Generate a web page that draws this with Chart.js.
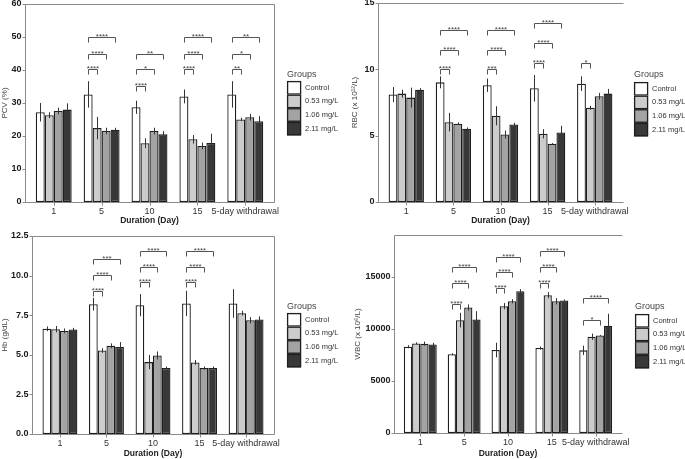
<!DOCTYPE html>
<html>
<head>
<meta charset="utf-8">
<script src="https://cdn.jsdelivr.net/npm/chart.js@4.4.1/dist/chart.umd.min.js"></script>
<style>
  body { margin: 0; background: #fff; }
  #wrap { position: relative; width: 685px; height: 459px; overflow: hidden; }
  canvas { position: absolute; }
</style>
</head>
<body>
<div id="wrap">
  <canvas id="pcv"></canvas>
  <canvas id="rbc"></canvas>
  <canvas id="hb"></canvas>
  <canvas id="wbc"></canvas>
</div>
<script>
// Kategorien und Gruppen
const days = ['1', '5', '10', '15', '5-day withdrawal'];
const groups = ['Control', '0.53 mg/L', '1.06 mg/L', '2.11 mg/L'];
const groupColors = ['#ffffff', '#cccccc', '#a3a3a3', '#383838'];

// PCV (%) – Mittelwerte und Fehler je Gruppe (Zeilen) und Tag (Spalten)
const pcvMeans = [
  [27.2, 32.6, 28.7, 32.0, 32.6],
  [26.3, 22.4, 17.8, 19.0, 25.0],
  [27.6, 21.5, 21.5, 17.0, 25.7],
  [28.0, 21.9, 20.5, 17.9, 24.5]
];
const pcvErrors = [
  [2.8, 4.0, 2.0, 2.1, 4.0],
  [0.9, 3.4, 1.5, 1.3, 0.5],
  [1.0, 1.0, 1.0, 1.0, 1.0],
  [1.9, 0.6, 1.0, 2.8, 1.5]
];
const pcvTicks = [0, 10, 20, 30, 40, 50, 60];
// [Tag, Gruppe, Höhe, Label]
const pcvSig = [
  [1, 1, 40.3, '****'], [1, 2, 45.0, '****'], [1, 3, 50.0, '****'],
  [2, 1, 35.2, '****'], [2, 2, 40.2, '*'], [2, 3, 45.0, '**'],
  [3, 1, 40.3, '****'], [3, 2, 45.0, '****'], [3, 3, 50.0, '****'],
  [4, 1, 40.3, '**'], [4, 2, 45.0, '*'], [4, 3, 50.0, '**']
];

// RBC
const rbcMeans = [
  [8.10, 9.02, 8.80, 8.57, 8.92],
  [8.17, 6.02, 6.50, 5.14, 7.10],
  [7.87, 5.90, 5.09, 4.39, 7.97],
  [8.47, 5.52, 5.85, 5.24, 8.17]
];
const rbcErrors = [
  [0.57, 0.45, 0.50, 1.00, 0.55],
  [0.30, 0.70, 0.72, 0.35, 0.15],
  [0.75, 0.10, 0.30, 0.05, 0.25],
  [0.10, 0.10, 0.12, 0.50, 0.35]
];
const rbcTicks = [0, 5, 10, 15];
const rbcSig = [
  [1, 1, 10.0, '****'], [1, 2, 11.47, '****'], [1, 3, 12.98, '****'],
  [2, 1, 10.0, '***'], [2, 2, 11.47, '****'], [2, 3, 12.98, '****'],
  [3, 1, 10.46, '****'], [3, 2, 12.0, '****'], [3, 3, 13.53, '****'],
  [4, 1, 10.46, '*']
];

// Hb
const hbMeans = [
  [6.64, 8.19, 8.13, 8.24, 8.24],
  [6.62, 5.27, 4.54, 4.52, 7.63],
  [6.51, 5.57, 4.96, 4.16, 7.18],
  [6.60, 5.50, 4.16, 4.16, 7.23]
];
const hbErrors = [
  [0.15, 0.40, 0.70, 0.80, 0.90],
  [0.20, 0.15, 0.45, 0.15, 0.15],
  [0.15, 0.15, 0.25, 0.10, 0.20],
  [0.10, 0.30, 0.10, 0.10, 0.20]
];
const hbTicks = [0, 2.5, 5, 7.5, 10, 12.5];
const hbSig = [
  [1, 1, 9.05, '****'], [1, 2, 10.04, '****'], [1, 3, 11.05, '***'],
  [2, 1, 9.58, '****'], [2, 2, 10.55, '****'], [2, 3, 11.55, '****'],
  [3, 1, 9.58, '****'], [3, 2, 10.55, '****'], [3, 3, 11.55, '****']
];

// WBC
const wbcMeans = [
  [8280, 7550, 7960, 8150, 7930],
  [8600, 10830, 12170, 13220, 9240],
  [8570, 12040, 12640, 12640, 9360],
  [8500, 10890, 13600, 12710, 10290]
];
const wbcErrors = [
  [150, 100, 700, 150, 450],
  [100, 700, 300, 300, 300],
  [200, 300, 200, 300, 50],
  [150, 800, 200, 100, 1150]
];
const wbcTicks = [0, 5000, 10000, 15000];
const wbcSig = [
  [1, 1, 12420, '****'], [1, 2, 14430, '****'], [1, 3, 15920, '****'],
  [2, 1, 13950, '****'], [2, 2, 15450, '****'], [2, 3, 16880, '****'],
  [3, 1, 14430, '****'], [3, 2, 15920, '****'], [3, 3, 17420, '****'],
  [4, 2, 10890, '*'], [4, 3, 12960, '****']
];

const FONT = "'Liberation Sans', Arial, sans-serif";

const panels = [
  { id: 'pcv', x: 0, y: 0, w: 345, h: 228, frame: [25, 4, 274, 202], box: true,
    title: 'PCV (%)', titleX: 0, xTitlePad: 2, means: pcvMeans, errs: pcvErrors, ticks: pcvTicks, max: 60, dec: 0,
    sig: pcvSig, legend: [287, 75, 81] },
  { id: 'rbc', x: 345, y: 0, w: 340, h: 228, frame: [33, 3, 278, 202], box: false,
    title: 'RBC (x 10\u00B9\u00B2/L)', titleX: 5, xTitlePad: 2, means: rbcMeans, errs: rbcErrors, ticks: rbcTicks, max: 15, dec: 0,
    sig: rbcSig, legend: [289, 75, 82] },
  { id: 'hb', x: 0, y: 228, w: 345, h: 231, frame: [32, 8, 274, 206], box: true,
    title: 'Hb (g/dL)', titleX: 0, xTitlePad: 0, means: hbMeans, errs: hbErrors, ticks: hbTicks, max: 12.5, dec: 1,
    sig: hbSig, legend: [287, 79, 85] },
  { id: 'wbc', x: 345, y: 228, w: 340, h: 231, frame: [49, 7, 277, 205], box: false,
    title: 'WBC (x 10\u2076/L)', titleX: 8, xTitlePad: 0, means: wbcMeans, errs: wbcErrors, ticks: wbcTicks, max: 19000, dec: 0,
    sig: wbcSig, legend: [290, 79, 86] }
];

// Rahmen, Fehlerbalken, Signifikanzklammern und Legende
const extrasPlugin = {
  id: 'extras',
  afterDatasetsDraw(chart) {
    const p = chart.options.plugins.extras.panel;
    const ctx = chart.ctx;
    const yScale = chart.scales.y;
    const xScale = chart.scales.x;
    const [fl, ft, fr, fb] = p.frame;

    // Fehlerbalken
    ctx.save();
    ctx.strokeStyle = '#333';
    ctx.lineWidth = 1;
    p.means.forEach((row, i) => {
      const meta = chart.getDatasetMeta(i);
      row.forEach((m, j) => {
        const bx = Math.round(meta.data[j].x) + 0.5;
        ctx.beginPath();
        ctx.moveTo(bx, yScale.getPixelForValue(m + p.errs[i][j]));
        ctx.lineTo(bx, yScale.getPixelForValue(m - p.errs[i][j]));
        ctx.stroke();
      });
    });

    // Rahmen
    ctx.strokeStyle = '#8a8a8a';
    ctx.lineWidth = 1;
    ctx.beginPath();
    ctx.moveTo(fr + 0.5, ft + 0.5);
    ctx.lineTo(fl + 0.5, ft + 0.5);
    ctx.lineTo(fl + 0.5, fb + 0.5);
    ctx.lineTo(fr + 0.5, fb + 0.5);
    if (p.box) ctx.lineTo(fr + 0.5, ft + 0.5);
    ctx.stroke();

    // Achsenstriche
    ctx.beginPath();
    yScale.ticks.forEach(t => {
      const ty = Math.round(yScale.getPixelForValue(t.value)) + 0.5;
      ctx.moveTo(fl - 2.5, ty);
      ctx.lineTo(fl + 0.5, ty);
    });
    days.forEach((d, j) => {
      const tx = Math.round(xScale.getPixelForValue(j)) + 0.5;
      ctx.moveTo(tx, fb + 0.5);
      ctx.lineTo(tx, fb + 3.5);
    });
    ctx.stroke();

    // Signifikanz
    ctx.strokeStyle = '#555';
    ctx.fillStyle = '#444';
    ctx.font = '8px ' + FONT;
    ctx.textAlign = 'center';
    ctx.textBaseline = 'alphabetic';
    p.sig.forEach(([day, g, val, label]) => {
      const x1 = Math.round(chart.getDatasetMeta(0).data[day].x) + 0.5;
      const x2 = Math.round(chart.getDatasetMeta(g).data[day].x) + 0.5;
      const sy = Math.round(yScale.getPixelForValue(val)) + 0.5;
      ctx.beginPath();
      ctx.moveTo(x1, sy + 5);
      ctx.lineTo(x1, sy);
      ctx.lineTo(x2, sy);
      ctx.lineTo(x2, sy + 5);
      ctx.stroke();
      ctx.fillText(label, (x1 + x2) / 2, sy + 1);
    });
    ctx.restore();
  },
  afterDraw(chart) {
    const p = chart.options.plugins.extras.panel;
    const ctx = chart.ctx;
    const [lx, ly, by] = p.legend;
    ctx.save();
    ctx.fillStyle = '#444';
    ctx.font = '9px ' + FONT;
    ctx.textAlign = 'left';
    ctx.textBaseline = 'middle';
    ctx.fillText('Groups', lx, ly);
    const bh = 13.6;
    groups.forEach((g, i) => {
      const top = by + i * bh;
      ctx.fillStyle = groupColors[i];
      ctx.fillRect(lx, top, 14, bh);
      ctx.strokeStyle = '#1e1e1e';
      ctx.lineWidth = 1.3;
      ctx.strokeRect(lx + 0.6, top + 0.6, 13, bh - 1.2);
      ctx.fillStyle = '#333';
      ctx.font = '7.5px ' + FONT;
      ctx.fillText(g, lx + 18, top + bh / 2);
    });
    ctx.restore();
  }
};

function makeChart(p) {
  const canvas = document.getElementById(p.id);
  canvas.width = p.w;
  canvas.height = p.h;
  canvas.style.left = p.x + 'px';
  canvas.style.top = p.y + 'px';

  const [fl, ft, fr, fb] = p.frame;
  const catW = (fr - fl) / 5.2;
  const areaLeft = fl + 0.1 * catW;
  const areaRight = fr - 0.1 * catW;

  const datasets = groups.map((g, i) => ({
    label: g,
    data: p.means[i],
    backgroundColor: groupColors[i],
    borderColor: '#1e1e1e',
    borderWidth: 1.3,
    borderSkipped: false,
    categoryPercentage: 0.75,
    barPercentage: 1
  }));

  new Chart(canvas.getContext('2d'), {
    type: 'bar',
    data: { labels: days, datasets },
    plugins: [extrasPlugin],
    options: {
      responsive: false,
      animation: false,
      layout: { padding: { top: ft, right: p.w - areaRight, left: 0, bottom: 0 } },
      plugins: {
        legend: { display: false },
        tooltip: { enabled: false },
        extras: { panel: p }
      },
      scales: {
        x: {
          grid: { display: false, drawTicks: false },
          border: { display: false },
          ticks: { color: '#333', font: { family: FONT, size: 9 }, padding: 4, maxRotation: 0, autoSkip: false },
          title: { display: true, text: 'Duration (Day)', color: '#222',
                   font: { family: FONT, size: 8.5, weight: 'bold' }, padding: { top: 0, bottom: p.xTitlePad } },
          afterFit: s => { s.height = p.h - fb; s.paddingLeft = 0; s.paddingRight = 0; }
        },
        y: {
          min: 0,
          max: p.max,
          grid: { display: false, drawTicks: false },
          border: { display: false },
          afterBuildTicks: s => { s.ticks = p.ticks.map(v => ({ value: v })); },
          ticks: {
            color: '#1a1a1a',
            font: { family: FONT, size: 9, weight: 'bold' },
            padding: 0.1 * catW + 3.5,
            callback: v => Number(v).toFixed(p.dec)
          },
          title: { display: true, text: p.title, color: '#444',
                   font: { family: FONT, size: 8 }, padding: { top: p.titleX, bottom: 0 } },
          afterFit: s => { s.width = areaLeft; s.paddingTop = 0; s.paddingBottom = 0; }
        }
      }
    }
  });
}

panels.forEach(makeChart);
</script>
</body>
</html>
